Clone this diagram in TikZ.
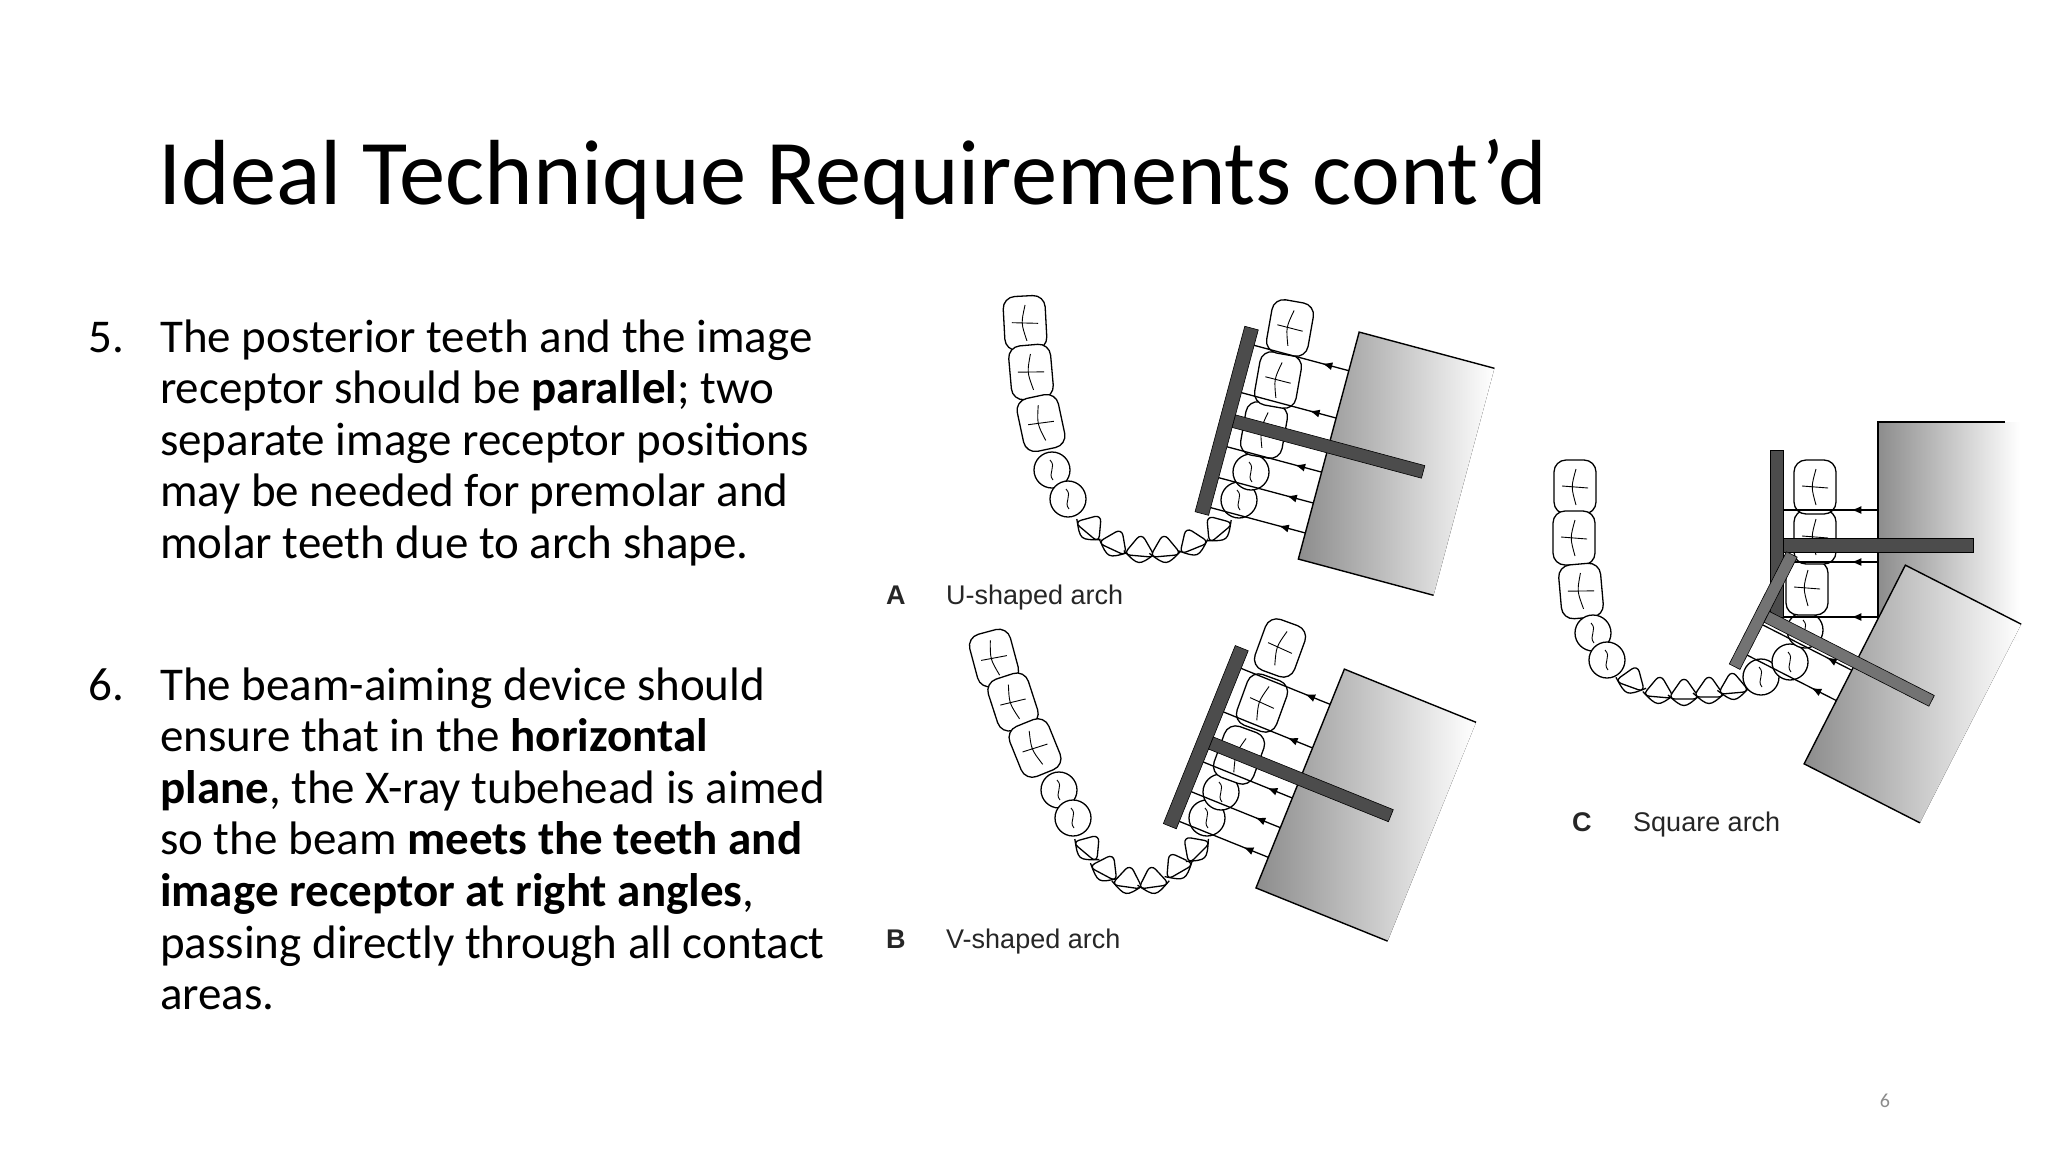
\documentclass[tikz,border=0pt]{standalone}
\usepackage{fontspec}
\setmainfont{Carlito}
\newfontfamily\lab{Liberation Sans}
\usetikzlibrary{arrows.meta,decorations.markings}
\newcommand{\molar}[2]{\begin{scope}[shift={#1},rotate=#2]
    \draw[tooth,rounded corners=12pt] (-21,-27) rectangle (21,27);
    \draw[fis] (1,-18) .. controls (-4,0) .. (1,18) (-13,-1) -- (13,1);\end{scope}}
\newcommand{\premolar}[2]{\begin{scope}[shift={#1},rotate=#2]
    \draw[tooth] (0,0) circle (18);
    \draw[fis] (-2,-10) .. controls (5,-3) and (-5,3) .. (1,10);\end{scope}}
\newcommand{\incisor}[2]{\begin{scope}[shift={#1},rotate=#2]
    \draw[tooth] (-16,3) .. controls (0,17) .. (16,3);
    \draw[tooth,rounded corners=7pt] (-16,7) -- (0,-16) -- (16,7) -- cycle;\end{scope}}
\begin{document}
\begin{tikzpicture}[x=1pt,y=-1pt,
  tooth/.style={line width=1.3pt,fill=white},
  fis/.style={line width=0.9pt},
  film/.style={fill=black!70,draw=black,line width=0.6pt},
  filmlight/.style={fill=black!55,draw=black,line width=0.6pt},
  beam/.style={line width=1.3pt,postaction={decorate},
    decoration={markings,mark=at position 0.28 with {\arrow{Latex[length=10pt,width=8pt]}}}},
  tubeedge/.style={line width=1.4pt},
  tubefill/.style={left color=black!45,right color=white},
  body/.style={anchor=base west,inner sep=0pt,font=\fontsize{47}{55}\selectfont},
  lbl/.style={anchor=base west,inner sep=0pt,font=\lab\fontsize{27}{32}\selectfont,text=black!85},
  lblb/.style={lbl,font=\lab\bfseries\fontsize{27}{32}\selectfont}
]
\useasboundingbox (0,0) rectangle (2048,1152);
\fill[white] (0,0) rectangle (2048,1152);

% title
\node[anchor=base west,inner sep=0pt,font=\fontsize{92.5}{100}\selectfont] (title) at (158,204) {Ideal Technique Requirements cont’d};

% body
\node[body] (n5) at (88,352) {5.};
\node[body] (l1) at (160,352) {The posterior teeth and the image};
\node[body] (l2) at (160,403.6) {receptor should be \textbf{parallel}; two};
\node[body] (l3) at (160,455.2) {separate image receptor positions};
\node[body] (l4) at (160,506.8) {may be needed for premolar and};
\node[body] (l5) at (160,558.4) {molar teeth due to arch shape.};
\node[body] (n6) at (88,700) {6.};
\node[body] (m1) at (160,700) {The beam-aiming device should};
\node[body] (m2) at (160,751.6) {ensure that in the \textbf{horizontal}};
\node[body] (m3) at (160,803.2) {\textbf{plane}, the X-ray tubehead is aimed};
\node[body] (m4) at (160,854.8) {so the beam \textbf{meets the teeth and}};
\node[body] (m5) at (160,906.4) {\textbf{image receptor at right angles},};
\node[body] (m6) at (160,958) {passing directly through all contact};
\node[body] (m7) at (160,1009.6) {areas.};
\node[anchor=base,inner sep=0pt,font=\fontsize{20}{24}\selectfont,text=black!45] (pg) at (1885,1107) {6};

% ===== Panel A =====
\begin{scope}[shift={(1251,330)},rotate=-15]
  \fill[tubefill] (105,-26) -- (245,-26) -- (245,209) -- (105,209) -- cycle;
  \draw[tubeedge] (245,-26) -- (105,-26) -- (105,209) -- (245,209);
\end{scope}
\molar{(1025,323)}{3} \molar{(1031,372)}{5} \molar{(1041,423)}{12}
\premolar{(1052,470)}{0} \premolar{(1068,499)}{0}
\incisor{(1091,527)}{-40} \incisor{(1115,543)}{-25}
\incisor{(1140,549)}{-5} \incisor{(1165,549)}{5}
\incisor{(1192,542)}{22} \incisor{(1217,528)}{40}
\premolar{(1239,500)}{0} \premolar{(1251,472)}{0}
\molar{(1264,430)}{-10} \molar{(1278,380)}{-10} \molar{(1290,328)}{-10}
\begin{scope}[shift={(1251,330)},rotate=-15]
  \foreach \b in {14,63,119,151,182} \draw[beam] (105,\b) -- (7,\b);
  \draw[film] (-7,-2) -- (7,-2) -- (7,190) -- (-7,190) -- cycle;
  \draw[film] (7,86) -- (203,86) -- (203,99) -- (7,99) -- cycle;
\end{scope}
\node[lblb] (la) at (886,604) {A};
\node[lbl] (ta) at (946,604) {U-shaped arch};

% ===== Panel B =====
\begin{scope}[shift={(1241,650)},rotate=-22]
  \fill[tubefill] (103,-21) -- (245,-21) -- (245,215) -- (103,215) -- cycle;
  \draw[tubeedge] (245,-21) -- (103,-21) -- (103,215) -- (245,215);
\end{scope}
\molar{(994,658)}{15} \molar{(1013,702)}{18} \molar{(1035,748)}{22}
\premolar{(1059,790)}{0} \premolar{(1073,818)}{0}
\incisor{(1089,847)}{-40} \incisor{(1106,868)}{-28}
\incisor{(1128,880)}{-8} \incisor{(1153,880)}{8}
\incisor{(1177,866)}{30} \incisor{(1195,848)}{45}
\premolar{(1207,818)}{0} \premolar{(1221,792)}{0}
\molar{(1239,755)}{-20} \molar{(1262,703)}{-20} \molar{(1280,648)}{-20}
\begin{scope}[shift={(1241,650)},rotate=-22]
  \foreach \b in {17,64,118,150,182} \draw[beam] (103,\b) -- (7,\b);
  \draw[film] (-7,-2) -- (7,-2) -- (7,190) -- (-7,190) -- cycle;
  \draw[film] (7,91) -- (201,91) -- (201,104) -- (7,104) -- cycle;
\end{scope}
\node[lblb] (lb) at (886,948) {B};
\node[lbl] (tb) at (946,948) {V-shaped arch};

% ===== Panel C =====
\fill[tubefill] (1878,422) rectangle (2020,640);
\draw[tubeedge] (2005,422) -- (1878,422) -- (1878,640);
\molar{(1575,487)}{0} \molar{(1574,538)}{0} \molar{(1581,591)}{5}
\premolar{(1593,633)}{0} \premolar{(1607,660)}{0}
\incisor{(1632,680)}{-20} \incisor{(1659,690)}{-5} \incisor{(1684,692)}{0}
\incisor{(1709,690)}{0} \incisor{(1733,686)}{5}
\premolar{(1761,677)}{0} \premolar{(1790,662)}{0}
\premolar{(1805,630)}{0}
\molar{(1807,588)}{0} \molar{(1815,537)}{0} \molar{(1815,487)}{0}
\foreach \yy in {510,562,617} \draw[beam] (1878,\yy) -- (1783,\yy);
\draw[film] (1770,450) rectangle (1783,617);
\draw[film] (1783,538) rectangle (1973,552);
\begin{scope}[shift={(1790,558)},rotate=-27]
  \fill[tubefill] (106,-46) -- (236,-46) -- (236,177) -- (106,177) -- cycle;
  \draw[tubeedge] (236,-46) -- (106,-46) -- (106,177) -- (236,177);
  \foreach \b in {72,106} \draw[beam] (106,\b) -- (6,\b);
  \draw[filmlight] (-6,-4) -- (6,-4) -- (6,122) -- (-6,122) -- cycle;
  \draw[filmlight] (6,57) -- (191,57) -- (191,69) -- (6,69) -- cycle;
\end{scope}
\node[lblb] (lc) at (1572,831) {C};
\node[lbl] (tc) at (1633,831) {Square arch};
\end{tikzpicture}
\end{document}
